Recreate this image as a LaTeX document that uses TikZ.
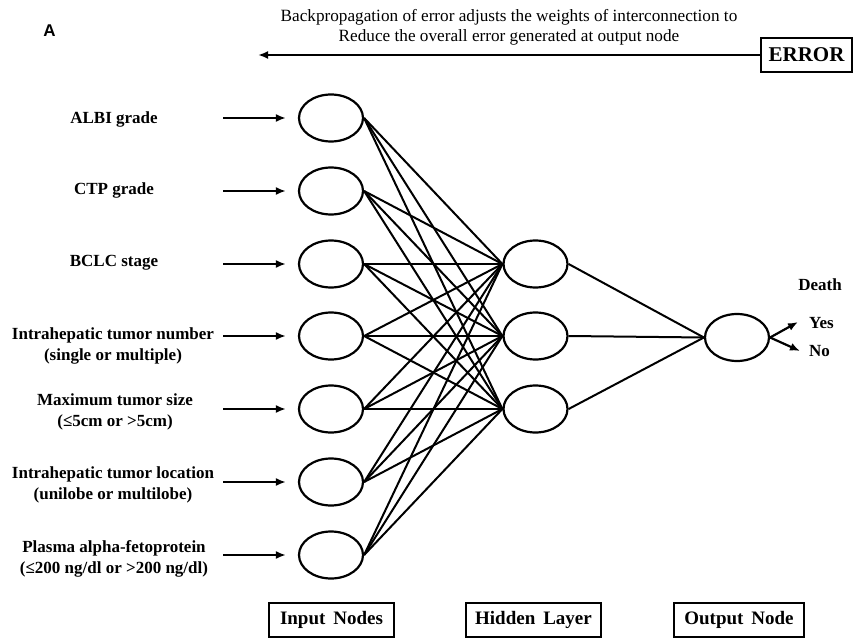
\documentclass[tikz,border=0pt]{standalone}
\usepackage{fontspec}
\setmainfont{Liberation Serif}
\newfontfamily\labelsans{Liberation Sans}
\usetikzlibrary{arrows.meta,shapes.geometric}
\begin{document}
\begin{tikzpicture}[x=1pt,y=-1pt,
  neuron/.style={draw, line width=2.2pt, ellipse, minimum width=64pt, minimum height=47pt, inner sep=0pt},
  link/.style={line width=2pt},
  feed/.style={line width=2.2pt, -{Latex[length=10pt,width=8pt]}},
  inlabel/.style={font=\bfseries\fontsize{17}{21}\selectfont, align=center, inner sep=0pt},
  boxlabel/.style={draw, line width=2.2pt, font=\bfseries\fontsize{19}{21}\selectfont, minimum height=34pt, inner xsep=2pt},
  toptext/.style={font=\fontsize{17.2}{20}\selectfont, align=center, inner sep=0pt}
]
\useasboundingbox (0,0) rectangle (854,639);

% input neurons
\foreach \i/\y in {1/118,2/191,3/264,4/336,5/409,6/482,7/555}{
  \node[neuron] (in\i) at (331,\y) {};
  \coordinate (s\i) at (223,\y);
}
% hidden neurons
\foreach \j/\y in {1/264,2/336,3/409}{
  \node[neuron] (h\j) at (535.5,\y) {};
}
% output neuron
\node[neuron] (out) at (737,337.5) {};

% connections
\foreach \i in {1,...,7}{
  \foreach \j in {1,2,3}{
    \draw[link] (in\i.east) -- (h\j.west);
  }
  \draw[feed] (s\i) -- ([xshift=-12pt]in\i.west);
}
\foreach \j in {1,2,3}{
  \draw[link] (h\j.east) -- (out.west);
}

% input labels
\node[inlabel] (l1) at (114,119) {ALBI grade};
\node[inlabel] (l2) at (114,190) {CTP grade};
\node[inlabel] (l3) at (114,263) {BCLC stage};
\node[inlabel] (l4) at (113,346) {Intrahepatic tumor number\\(single or multiple)};
\node[inlabel] (l5) at (115,412) {Maximum tumor size\\(≤5cm or >5cm)};
\node[inlabel] (l6) at (113,485) {Intrahepatic tumor location\\(unilobe or multilobe)};
\node[inlabel] (l7) at (114,559) {Plasma alpha-fetoprotein\\(≤200 ng/dl or >200 ng/dl)};

% outputs
\coordinate (yes) at (798,322);
\coordinate (no) at (800,351);
\draw[feed] (out.east) -- (yes);
\draw[feed] (out.east) -- (no);
\node[inlabel, anchor=west] (tyes) at (809,323) {Yes};
\node[inlabel, anchor=west] (tno) at (809,351) {No};
\node[inlabel] (tdeath) at (820,285) {Death};

% bottom boxes
\node[boxlabel, minimum width=125pt] (bin) at (331.5,620) {Input\, Nodes};
\node[boxlabel, minimum width=135pt] (bhid) at (533.5,620) {Hidden\, Layer};
\node[boxlabel, minimum width=130pt] (bout) at (739,620) {Output\, Node};

% top
\node[font=\labelsans\bfseries\fontsize{17}{18}\selectfont, inner sep=0pt] (A) at (49.5,31) {A};
\node[toptext] (bp) at (509,27) {Backpropagation of error adjusts the weights of interconnection to\\Reduce the overall error generated at output node};
\node[boxlabel, font=\bfseries\fontsize{21}{22}\selectfont, minimum width=91pt, minimum height=34pt] (err) at (806.5,55) {ERROR};
\coordinate (bpend) at (258,55);
\draw[feed] (err.west) -- (bpend);
\end{tikzpicture}
\end{document}
